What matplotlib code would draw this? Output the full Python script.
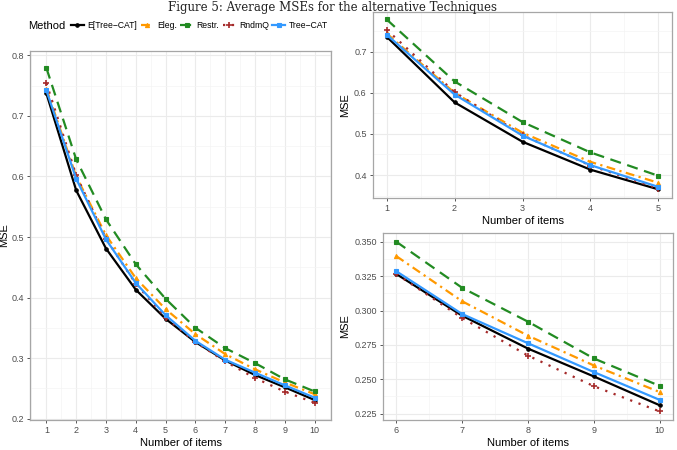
import matplotlib
matplotlib.use("Agg")
import matplotlib.pyplot as plt
from matplotlib.ticker import MultipleLocator, FormatStrFormatter

plt.rcParams['font.family'] = ['Liberation Sans', 'DejaVu Sans']

items = [1, 2, 3, 4, 5, 6, 7, 8, 9, 10]
methods = ["E[Tree\u2212CAT]", "Eleg.", "Restr.", "RndmQ", "Tree\u2212CAT"]
mse_etreecat = [0.737, 0.577, 0.481, 0.413, 0.365, 0.3267, 0.2963, 0.2723, 0.2520, 0.2310]
mse_eleg     = [0.745, 0.600, 0.503, 0.432, 0.381, 0.3397, 0.3068, 0.2817, 0.2600, 0.2406]
mse_restr    = [0.779, 0.628, 0.529, 0.455, 0.398, 0.3502, 0.3166, 0.2919, 0.2651, 0.2451]
mse_rndmq    = [0.754, 0.602, 0.497, 0.423, 0.367, 0.3267, 0.2946, 0.2672, 0.2449, 0.2265]
mse_treecat  = [0.742, 0.596, 0.496, 0.424, 0.371, 0.3287, 0.2975, 0.2762, 0.2552, 0.2349]
series = [mse_etreecat, mse_eleg, mse_restr, mse_rndmq, mse_treecat]

styles = [
    dict(color="black", ls="-", marker="o", ms=2.5, mew=0.8),
    dict(color="#FF9900", ls=(0, (4, 2, 1, 2)), marker="^", ms=3, mew=0.8),
    dict(color="#228B22", ls=(0, (5, 3)), marker="s", ms=2.5, mew=0.8),
    dict(color="#A52A2A", ls=(0, (1, 3)), marker="+", ms=5, mew=1.2),
    dict(color="#3399FF", ls="-", marker="s", ms=3, mew=0.8),
]

W, H = 677, 450
fig = plt.figure(figsize=(W / 100, H / 100), dpi=100)

def px_axes(x0, y0, x1, y1):
    return fig.add_axes([x0 / W, (H - y1) / H, (x1 - x0) / W, (y1 - y0) / H])

ax_l = px_axes(30, 51, 331, 420)
ax_tr = px_axes(373, 12, 672, 198)
ax_br = px_axes(383, 233, 673, 420)

def draw(ax, lo, hi, xlim, ylim, ymajor, yminor, fmt):
    xs = items[lo:hi]
    handles = []
    for s, st in zip(series, styles):
        h, = ax.plot(xs, s[lo:hi], color=st["color"], ls=st["ls"], lw=1.6,
                     marker=st["marker"], ms=st["ms"], markeredgewidth=st["mew"],
                     dash_capstyle="butt")
        handles.append(h)
    ax.set_xlim(*xlim)
    ax.set_ylim(*ylim)
    ax.set_xticks(xs)
    ax.xaxis.set_minor_locator(MultipleLocator(0.5))
    ax.yaxis.set_major_locator(MultipleLocator(ymajor))
    ax.yaxis.set_minor_locator(MultipleLocator(yminor))
    ax.yaxis.set_major_formatter(FormatStrFormatter(fmt))
    ax.grid(True, which="major", color="#EBEBEB", lw=0.8)
    ax.grid(True, which="minor", color="#F4F4F4", lw=0.5)
    ax.set_axisbelow(True)
    for sp in ax.spines.values():
        sp.set_color("#A6A6A6")
        sp.set_linewidth(0.9)
    ax.tick_params(which="major", length=2.5, width=0.7, color="#555555",
                   labelsize=6.5, labelcolor="#4D4D4D", pad=2)
    ax.tick_params(which="minor", length=0)
    ax.set_xlabel("Number of items", fontsize=8, color="black", labelpad=2)
    ax.set_ylabel("MSE", fontsize=8, color="black", labelpad=3)
    return handles

handles = draw(ax_l, 0, 10, (0.45, 10.55), (0.198, 0.807), 0.1, 0.05, "%.1f")
draw(ax_tr, 0, 5, (0.8, 5.2), (0.344, 0.797), 0.1, 0.05, "%.1f")
draw(ax_br, 5, 10, (5.8, 10.2), (0.2203, 0.3565), 0.025, 0.0125, "%.3f")
ax_l.yaxis.set_label_coords(-21 / 301, 0.5)

fig.text(28 / W, 1 - 26 / H, "Method", fontsize=8, va="center", ha="left")
fig.legend(handles, methods, loc="center left", bbox_to_anchor=(71 / W, 1 - 26 / H),
           ncol=5, frameon=False, fontsize=6.2, handlelength=1.5, handletextpad=0.4,
           columnspacing=0.4, borderaxespad=0, borderpad=0)

fig.text(333 / W, 1 - 0.5 / H, "Figure 5: Average MSEs for the alternative Techniques",
         fontsize=8.5, family="DejaVu Serif", ha="center", va="top", color="#222222")

fig.savefig("out.png", dpi=100)
